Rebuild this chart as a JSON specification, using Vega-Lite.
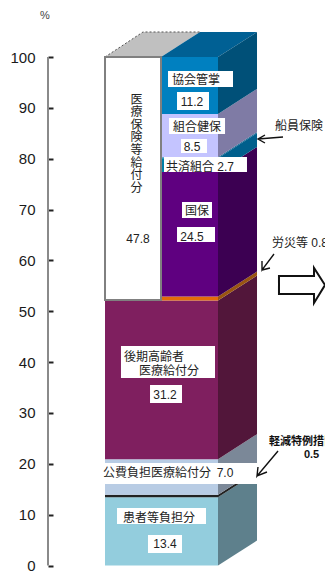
{
  "$schema": "https://vega.github.io/schema/vega-lite/v6.json",
  "width": 325,
  "height": 577,
  "autosize": "none",
  "padding": 0,
  "background": "white",
  "view": {"stroke": null},
  "resolve": {"axis": {"y": "independent"}},
  "layer": [
    {
      "data": {"values": [{"part": "軸", "x": -0.98, "from": 0, "to": 100}]},
      "mark": {"type": "rule", "color": "#8a8a8a", "strokeWidth": 2},
      "encoding": {
        "x": {"field": "x", "type": "quantitative", "axis": null, "scale": {"domain": [-10.42, 53.49], "range": [0, 325], "nice": false, "zero": false}},
        "y": {
          "field": "from",
          "type": "quantitative",
          "title": null,
          "scale": {"domain": [-2.26, 111.21], "range": [577, 0], "nice": false, "zero": false},
          "axis": {
            "orient": "left",
            "offset": -53,
            "values": [0, 10, 20, 30, 40, 50, 60, 70, 80, 90, 100],
            "domain": false,
            "grid": false,
            "tickColor": "#222222",
            "tickSize": 5,
            "tickWidth": 2,
            "labelPadding": 13,
            "labelFont": "Liberation Sans",
            "labelFontSize": 15,
            "labelColor": "#1a1a1a"
          }
        },
        "y2": {"field": "to"}
      }
    },
    {
      "data": {"values": [
        {"name": "給付分天面", "depth": 10.23, "low": 100, "high": 100},
        {"name": "給付分天面", "depth": 17.7, "low": 100, "high": 104.92},
        {"name": "給付分天面", "depth": 21.24, "low": 100, "high": 104.92},
        {"name": "給付分天面", "depth": 28.91, "low": 104.92, "high": 104.92},
        {"name": "保険者天面", "depth": 21.24, "low": 100, "high": 100},
        {"name": "保険者天面", "depth": 28.91, "low": 100, "high": 104.92},
        {"name": "保険者天面", "depth": 32.45, "low": 100, "high": 104.92},
        {"name": "保険者天面", "depth": 40.12, "low": 104.92, "high": 104.92},
        {"name": "患者等負担分", "depth": 32.45, "low": 0, "high": 13.4},
        {"name": "患者等負担分", "depth": 40.12, "low": 4.92, "high": 18.32},
        {"name": "軽減特例措置", "depth": 32.45, "low": 13.4, "high": 13.9},
        {"name": "軽減特例措置", "depth": 40.12, "low": 18.32, "high": 18.82},
        {"name": "公費負担医療給付分", "depth": 32.45, "low": 13.9, "high": 20.9},
        {"name": "公費負担医療給付分", "depth": 40.12, "low": 18.82, "high": 25.82},
        {"name": "後期高齢者医療給付分", "depth": 32.45, "low": 20.9, "high": 52.1},
        {"name": "後期高齢者医療給付分", "depth": 40.12, "low": 25.82, "high": 57.02},
        {"name": "労災等", "depth": 32.45, "low": 52.1, "high": 52.9},
        {"name": "労災等", "depth": 40.12, "low": 57.02, "high": 57.82},
        {"name": "国保", "depth": 32.45, "low": 52.9, "high": 77.4},
        {"name": "国保", "depth": 40.12, "low": 57.82, "high": 82.32},
        {"name": "共済組合", "depth": 32.45, "low": 77.4, "high": 80.1},
        {"name": "共済組合", "depth": 40.12, "low": 82.32, "high": 85.02},
        {"name": "船員保険", "depth": 32.45, "low": 80.1, "high": 80.3},
        {"name": "船員保険", "depth": 40.12, "low": 85.02, "high": 85.22},
        {"name": "組合健保", "depth": 32.45, "low": 80.3, "high": 88.8},
        {"name": "組合健保", "depth": 40.12, "low": 85.22, "high": 93.72},
        {"name": "協会管掌", "depth": 32.45, "low": 88.8, "high": 100},
        {"name": "協会管掌", "depth": 40.12, "low": 93.72, "high": 104.92}
      ]},
      "mark": {"type": "area"},
      "encoding": {
        "x": {"field": "depth", "type": "quantitative", "axis": null, "scale": {"domain": [-10.42, 53.49], "range": [0, 325], "nice": false, "zero": false}},
        "y": {"field": "low", "type": "quantitative", "axis": null, "scale": {"domain": [-2.26, 111.21], "range": [577, 0], "nice": false, "zero": false}},
        "y2": {"field": "high"},
        "color": {
          "field": "name",
          "type": "nominal",
          "legend": null,
          "scale": {
            "domain": ["給付分天面", "保険者天面", "患者等負担分", "軽減特例措置", "公費負担医療給付分", "後期高齢者医療給付分", "労災等", "国保", "共済組合", "船員保険", "組合健保", "協会管掌"],
            "range": ["#c0c0c0", "#006094", "#5e808c", "#222222", "#7b8898", "#52163a", "#995511", "#3c0052", "#005f8c", "#005f8c", "#7f7ba5", "#005078"]
          }
        }
      }
    },
    {
      "data": {"values": [
        {"edge": "左", "seq": 1, "x": 10.23, "v": 100},
        {"edge": "左", "seq": 2, "x": 17.7, "v": 104.92},
        {"edge": "左", "seq": 3, "x": 28.91, "v": 104.92}
      ]},
      "mark": {"type": "line", "color": "#555555", "strokeWidth": 1, "strokeDash": [2, 2]},
      "encoding": {
        "x": {"field": "x", "type": "quantitative", "axis": null, "scale": {"domain": [-10.42, 53.49], "range": [0, 325], "nice": false, "zero": false}},
        "y": {"field": "v", "type": "quantitative", "axis": null, "scale": {"domain": [-2.26, 111.21], "range": [577, 0], "nice": false, "zero": false}},
        "detail": {"field": "edge", "type": "nominal"},
        "order": {"field": "seq", "type": "quantitative"}
      }
    },
    {
      "data": {"values": [
        {"name": "患者等負担分", "value": 13.4, "x0": 10.23, "x1": 32.45, "from": 0, "to": 13.4},
        {"name": "軽減特例措置", "value": 0.5, "x0": 10.23, "x1": 32.45, "from": 13.4, "to": 13.9},
        {"name": "公費負担医療給付分", "value": 7.0, "x0": 10.23, "x1": 32.45, "from": 13.9, "to": 20.9},
        {"name": "後期高齢者医療給付分", "value": 31.2, "x0": 10.23, "x1": 32.45, "from": 20.9, "to": 52.1},
        {"name": "労災等", "value": 0.8, "x0": 21.24, "x1": 32.45, "from": 52.1, "to": 52.9},
        {"name": "国保", "value": 24.5, "x0": 21.24, "x1": 32.45, "from": 52.9, "to": 77.4},
        {"name": "共済組合", "value": 2.7, "x0": 21.24, "x1": 32.45, "from": 77.4, "to": 80.1},
        {"name": "船員保険", "value": 0.2, "x0": 21.24, "x1": 32.45, "from": 80.1, "to": 80.3},
        {"name": "組合健保", "value": 8.5, "x0": 21.24, "x1": 32.45, "from": 80.3, "to": 88.8},
        {"name": "協会管掌", "value": 11.2, "x0": 21.24, "x1": 32.45, "from": 88.8, "to": 100}
      ]},
      "mark": {"type": "rect"},
      "encoding": {
        "x": {"field": "x0", "type": "quantitative", "axis": null, "scale": {"domain": [-10.42, 53.49], "range": [0, 325], "nice": false, "zero": false}},
        "x2": {"field": "x1"},
        "y": {"field": "from", "type": "quantitative", "axis": null, "scale": {"domain": [-2.26, 111.21], "range": [577, 0], "nice": false, "zero": false}},
        "y2": {"field": "to"},
        "fill": {
          "field": "name",
          "type": "nominal",
          "legend": null,
          "scale": {
            "domain": ["患者等負担分", "軽減特例措置", "公費負担医療給付分", "後期高齢者医療給付分", "労災等", "国保", "共済組合", "船員保険", "組合健保", "協会管掌"],
            "range": ["#93cddd", "#222222", "#b8cce4", "#7f1f5f", "#e36c0a", "#5f0080", "#0080a8", "#0080a8", "#c4c4ff", "#0080c0"]
          }
        }
      }
    },
    {
      "data": {"values": [{"name": "医療保険等給付分", "value": 47.8, "x0": 10.23, "x1": 21.24, "from": 52.2, "to": 100}]},
      "mark": {"type": "rect", "fill": "white", "stroke": "#808080", "strokeWidth": 2},
      "encoding": {
        "x": {"field": "x0", "type": "quantitative", "axis": null, "scale": {"domain": [-10.42, 53.49], "range": [0, 325], "nice": false, "zero": false}},
        "x2": {"field": "x1"},
        "y": {"field": "from", "type": "quantitative", "axis": null, "scale": {"domain": [-2.26, 111.21], "range": [577, 0], "nice": false, "zero": false}},
        "y2": {"field": "to"}
      }
    },
    {
      "data": {"values": [
        {"label": "協会管掌", "x0": 22.62, "x1": 35.4, "v0": 94.1, "v1": 97.25},
        {"label": "11.2", "x0": 24.39, "x1": 30.68, "v0": 89.58, "v1": 93.12},
        {"label": "組合健保", "x0": 22.81, "x1": 33.83, "v0": 84.86, "v1": 88.0},
        {"label": "8.5", "x0": 25.17, "x1": 30.29, "v0": 81.12, "v1": 83.87},
        {"label": "共済組合", "x0": 21.83, "x1": 38.15, "v0": 77.39, "v1": 80.33},
        {"label": "国保", "x0": 25.37, "x1": 31.27, "v0": 68.34, "v1": 71.49},
        {"label": "24.5", "x0": 24.39, "x1": 31.86, "v0": 63.62, "v1": 66.57},
        {"label": "後期高齢者", "x0": 13.37, "x1": 31.86, "v0": 36.87, "v1": 43.17},
        {"label": "31.2", "x0": 19.08, "x1": 25.37, "v0": 31.96, "v1": 35.5},
        {"label": "公費", "x0": 9.24, "x1": 40.12, "v0": 16.03, "v1": 20.16},
        {"label": "患者", "x0": 12.59, "x1": 30.09, "v0": 8.16, "v1": 11.31},
        {"label": "13.4", "x0": 18.68, "x1": 25.37, "v0": 2.46, "v1": 6.0}
      ]},
      "mark": {"type": "rect", "fill": "white"},
      "encoding": {
        "x": {"field": "x0", "type": "quantitative", "axis": null, "scale": {"domain": [-10.42, 53.49], "range": [0, 325], "nice": false, "zero": false}},
        "x2": {"field": "x1"},
        "y": {"field": "v0", "type": "quantitative", "axis": null, "scale": {"domain": [-2.26, 111.21], "range": [577, 0], "nice": false, "zero": false}},
        "y2": {"field": "v1"}
      }
    },
    {
      "data": {"values": [
        {"label": "協会管掌", "x": 28.12, "v": 95.48},
        {"label": "11.2", "x": 27.34, "v": 91.15},
        {"label": "組合健保", "x": 28.32, "v": 86.23},
        {"label": "8.5", "x": 27.34, "v": 82.3},
        {"label": "共済組合 2.7", "x": 28.91, "v": 78.37},
        {"label": "47.8", "x": 16.72, "v": 64.21},
        {"label": "国保", "x": 28.32, "v": 69.71},
        {"label": "24.5", "x": 27.34, "v": 64.6},
        {"label": "後期高齢者", "x": 19.86, "v": 41.0},
        {"label": "医療給付分", "x": 22.81, "v": 38.25},
        {"label": "31.2", "x": 22.03, "v": 33.53},
        {"label": "公費負担医療給付分", "x": 20.45, "v": 18.19},
        {"label": "7.0", "x": 33.83, "v": 18.19},
        {"label": "患者等負担分", "x": 20.85, "v": 9.34},
        {"label": "13.4", "x": 22.03, "v": 4.23},
        {"label": "医", "x": 16.42, "v": 91.64},
        {"label": "療", "x": 16.42, "v": 89.16},
        {"label": "保", "x": 16.42, "v": 86.69},
        {"label": "険", "x": 16.42, "v": 84.21},
        {"label": "等", "x": 16.42, "v": 81.73},
        {"label": "給", "x": 16.42, "v": 79.25},
        {"label": "付", "x": 16.42, "v": 76.77},
        {"label": "分", "x": 16.42, "v": 74.3}
      ]},
      "mark": {"type": "text", "font": "Liberation Sans, Noto Sans CJK JP", "fontSize": 12, "color": "#222222", "align": "center", "baseline": "middle"},
      "encoding": {
        "x": {"field": "x", "type": "quantitative", "axis": null, "scale": {"domain": [-10.42, 53.49], "range": [0, 325], "nice": false, "zero": false}},
        "y": {"field": "v", "type": "quantitative", "axis": null, "scale": {"domain": [-2.26, 111.21], "range": [577, 0], "nice": false, "zero": false}},
        "text": {"field": "label", "type": "nominal"}
      }
    },
    {
      "data": {"values": [{"label": "%", "x": -1.57, "v": 108.06}]},
      "mark": {"type": "text", "font": "Liberation Sans", "fontSize": 11, "color": "#444444", "align": "center", "baseline": "middle"},
      "encoding": {
        "x": {"field": "x", "type": "quantitative", "axis": null, "scale": {"domain": [-10.42, 53.49], "range": [0, 325], "nice": false, "zero": false}},
        "y": {"field": "v", "type": "quantitative", "axis": null, "scale": {"domain": [-2.26, 111.21], "range": [577, 0], "nice": false, "zero": false}},
        "text": {"field": "label", "type": "nominal"}
      }
    },
    {
      "data": {"values": [
        {"label": "船員保険", "x": 43.66, "v": 86.43},
        {"label": "労災等 0.8", "x": 43.07, "v": 63.42}
      ]},
      "mark": {"type": "text", "font": "Liberation Sans, Noto Sans CJK JP", "fontSize": 12, "color": "#222222", "align": "left", "baseline": "middle"},
      "encoding": {
        "x": {"field": "x", "type": "quantitative", "axis": null, "scale": {"domain": [-10.42, 53.49], "range": [0, 325], "nice": false, "zero": false}},
        "y": {"field": "v", "type": "quantitative", "axis": null, "scale": {"domain": [-2.26, 111.21], "range": [577, 0], "nice": false, "zero": false}},
        "text": {"field": "label", "type": "nominal"}
      }
    },
    {
      "data": {"values": [{"label": "軽減特例措置", "x": 42.48, "v": 24.37}]},
      "mark": {"type": "text", "font": "Noto Sans CJK JP", "fontSize": 11, "fontWeight": "bold", "color": "#111111", "align": "left", "baseline": "middle"},
      "encoding": {
        "x": {"field": "x", "type": "quantitative", "axis": null, "scale": {"domain": [-10.42, 53.49], "range": [0, 325], "nice": false, "zero": false}},
        "y": {"field": "v", "type": "quantitative", "axis": null, "scale": {"domain": [-2.26, 111.21], "range": [577, 0], "nice": false, "zero": false}},
        "text": {"field": "label", "type": "nominal"}
      }
    },
    {
      "data": {"values": [{"label": "0.5", "x": 50.84, "v": 21.73}]},
      "mark": {"type": "text", "font": "Liberation Sans", "fontSize": 11, "fontWeight": "bold", "color": "#111111", "align": "center", "baseline": "middle"},
      "encoding": {
        "x": {"field": "x", "type": "quantitative", "axis": null, "scale": {"domain": [-10.42, 53.49], "range": [0, 325], "nice": false, "zero": false}},
        "y": {"field": "v", "type": "quantitative", "axis": null, "scale": {"domain": [-2.26, 111.21], "range": [577, 0], "nice": false, "zero": false}},
        "text": {"field": "label", "type": "nominal"}
      }
    },
    {
      "data": {"values": [
        {"arrow": "船員保険", "seq": 1, "x": 45.23, "v": 84.27},
        {"arrow": "船員保険", "seq": 2, "x": 40.31, "v": 83.87},
        {"arrow": "船員保険", "seq": 3, "x": 41.69, "v": 84.66},
        {"arrow": "船員保険", "seq": 4, "x": 40.31, "v": 83.87},
        {"arrow": "船員保険", "seq": 5, "x": 41.69, "v": 83.09},
        {"arrow": "労災等", "seq": 1, "x": 43.46, "v": 61.26},
        {"arrow": "労災等", "seq": 2, "x": 41.1, "v": 58.11},
        {"arrow": "労災等", "seq": 3, "x": 41.1, "v": 59.88},
        {"arrow": "労災等", "seq": 4, "x": 41.1, "v": 58.11},
        {"arrow": "労災等", "seq": 5, "x": 42.67, "v": 58.5},
        {"arrow": "軽減特例", "seq": 1, "x": 44.25, "v": 22.52},
        {"arrow": "軽減特例", "seq": 2, "x": 40.12, "v": 17.6},
        {"arrow": "軽減特例", "seq": 3, "x": 40.31, "v": 19.37},
        {"arrow": "軽減特例", "seq": 4, "x": 40.12, "v": 17.6},
        {"arrow": "軽減特例", "seq": 5, "x": 42.08, "v": 18.39}
      ]},
      "mark": {"type": "line", "color": "#111111", "strokeWidth": 1.4},
      "encoding": {
        "x": {"field": "x", "type": "quantitative", "axis": null, "scale": {"domain": [-10.42, 53.49], "range": [0, 325], "nice": false, "zero": false}},
        "y": {"field": "v", "type": "quantitative", "axis": null, "scale": {"domain": [-2.26, 111.21], "range": [577, 0], "nice": false, "zero": false}},
        "detail": {"field": "arrow", "type": "nominal"},
        "order": {"field": "seq", "type": "quantitative"}
      }
    },
    {
      "data": {"values": [
        {"x": 44.44, "low": 53.39, "high": 56.93},
        {"x": 51.33, "low": 53.39, "high": 56.93},
        {"x": 51.33, "low": 51.62, "high": 58.51},
        {"x": 53.49, "low": 55.16, "high": 55.16}
      ]},
      "mark": {"type": "area", "fill": "white", "stroke": "#111111", "strokeWidth": 2},
      "encoding": {
        "x": {"field": "x", "type": "quantitative", "axis": null, "scale": {"domain": [-10.42, 53.49], "range": [0, 325], "nice": false, "zero": false}},
        "y": {"field": "low", "type": "quantitative", "axis": null, "scale": {"domain": [-2.26, 111.21], "range": [577, 0], "nice": false, "zero": false}},
        "y2": {"field": "high"}
      }
    }
  ]
}
